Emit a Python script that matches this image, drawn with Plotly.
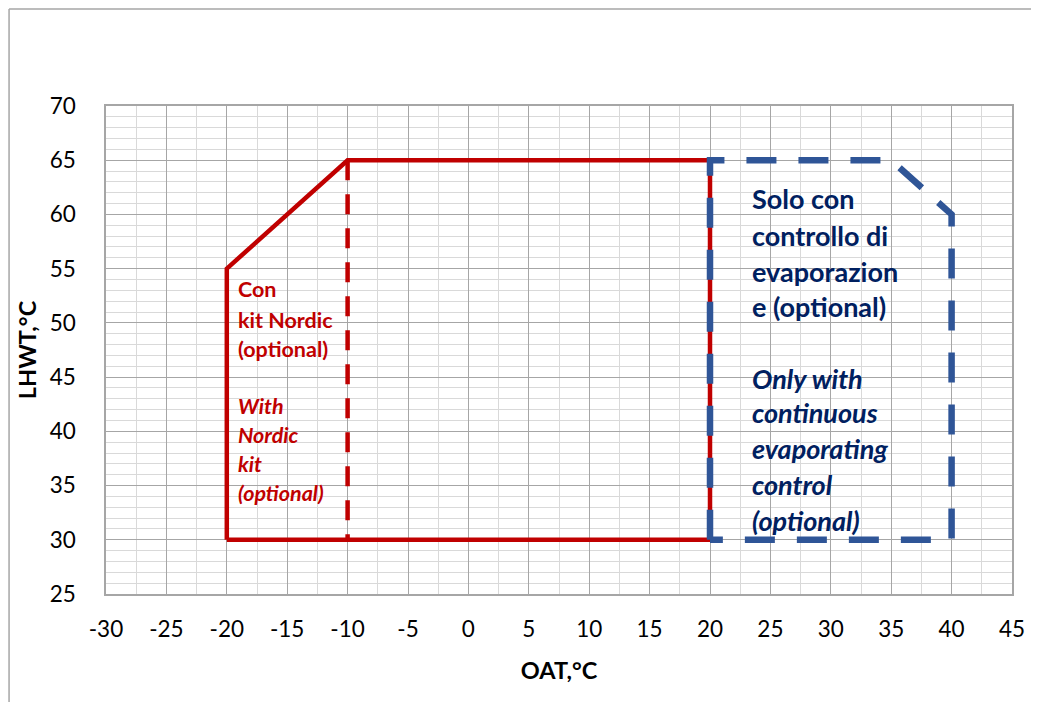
import plotly.graph_objects as go

# Data
red_x = [-20, -20, -10, 20, 20, -20]
red_y = [30, 55, 65, 65, 30, 30]
red_dash_x = [-10, -10]
red_dash_y = [65, 30]
blue_x = [20, 20, 35, 40, 40, 20]
blue_y = [30, 65, 65, 60, 30, 30]

red_lines = ["<b>Con</b>", "<b>kit Nordic</b>", "<b>(optional)</b>",
             "<b><i>With</i></b>", "<b><i>Nordic</i></b>", "<b><i>kit</i></b>", "<b><i>(optional)</i></b>"]
red_line_y = [53.1, 50.3, 47.6, 42.3, 39.7, 37.0, 34.3]
red_text_x = -19.2

blue_lines = ["<b>Solo con</b>", "<b>controllo di</b>", "<b>evaporazion</b>", "<b>e (optional)</b>",
              "<b><i>Only with</i></b>", "<b><i>continuous</i></b>", "<b><i>evaporating</i></b>",
              "<b><i>control</i></b>", "<b><i>(optional)</i></b>"]
blue_line_y = [61.5, 58.1, 54.7, 51.5, 44.9, 41.7, 38.4, 35.1, 31.8]
blue_text_x = 23.3

x_ticks = list(range(-30, 50, 5))
x_labels = [str(v) for v in x_ticks]
y_ticks = list(range(25, 75, 5))
y_labels = [str(v) for v in y_ticks]

RED = "#C00000"
BLUE = "#2F5597"
NAVY = "#002060"
FONT = "Lato"

fig = go.Figure()
fig.add_trace(go.Scatter(x=red_x, y=red_y, mode="lines",
                         line=dict(color=RED, width=4.5), hoverinfo="skip"))
fig.add_trace(go.Scatter(x=red_dash_x, y=red_dash_y, mode="lines",
                         line=dict(color=RED, width=4.5, dash="20px,14px"), hoverinfo="skip"))
fig.add_trace(go.Scatter(x=blue_x, y=blue_y, mode="lines",
                         line=dict(color=BLUE, width=6.5, dash="30px,22px"), hoverinfo="skip"))

annotations = []
for t, yy in zip(red_lines, red_line_y):
    annotations.append(dict(x=red_text_x, y=yy, text=t, showarrow=False, xanchor="left",
                            yanchor="middle", font=dict(family=FONT, size=21.5, color=RED)))
for t, yy in zip(blue_lines, blue_line_y):
    annotations.append(dict(x=blue_text_x, y=yy, text=t, showarrow=False, xanchor="left",
                            yanchor="middle", font=dict(family=FONT, size=27, color=NAVY)))

fig.update_layout(
    width=1031, height=694,
    margin=dict(l=98, r=27, t=98, b=108),
    paper_bgcolor="white", plot_bgcolor="white",
    showlegend=False,
    font=dict(family=FONT, size=22.5, color="#000000"),
    annotations=annotations,
    shapes=[
        dict(type="line", xref="paper", yref="paper", x0=-0.107, x1=1.1, y0=1.199, y1=1.199,
             line=dict(color="#A6A6A6", width=1.5)),
        dict(type="line", xref="paper", yref="paper", x0=-0.107, x1=-0.107, y0=1.199, y1=-0.25,
             line=dict(color="#A6A6A6", width=1.5)),
    ],
)
fig.update_xaxes(range=[-30, 45], tickvals=x_ticks, ticktext=x_labels, ticks="", showline=True, mirror=True,
                 linecolor="#A6A6A6", linewidth=1.5, gridcolor="#A6A6A6", gridwidth=1,
                 zeroline=False,
                 minor=dict(dtick=2.5, showgrid=True, gridcolor="#D9D9D9", gridwidth=1),
                 title=dict(text="<b>OAT,°C</b>", font=dict(size=23.5), standoff=22),
                 tickfont=dict(size=22.5), ticklabelstandoff=14)
fig.update_yaxes(range=[25, 70], tickvals=y_ticks, ticktext=y_labels, ticks="", showline=True, mirror=True,
                 linecolor="#A6A6A6", linewidth=1.5, gridcolor="#A6A6A6", gridwidth=1,
                 zeroline=False,
                 minor=dict(dtick=1, showgrid=True, gridcolor="#D9D9D9", gridwidth=1),
                 title=dict(text="<b>LHWT,°C</b>", font=dict(size=23.5), standoff=6),
                 tickfont=dict(size=22.5), ticklabelstandoff=24)

fig.write_html("out.html")
